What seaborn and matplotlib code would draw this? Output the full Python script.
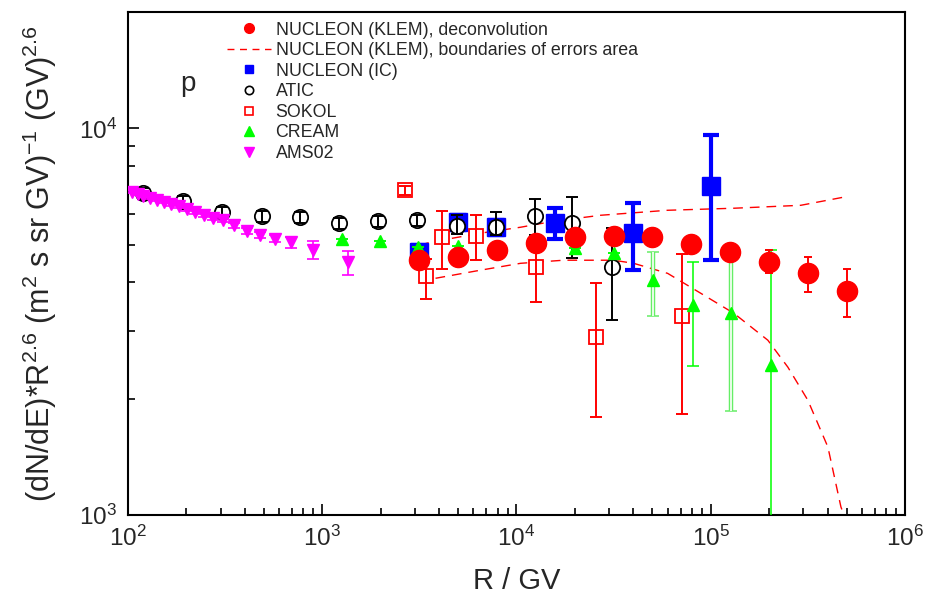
import matplotlib
matplotlib.use('Agg')
import matplotlib.pyplot as plt
import seaborn as sns
import pandas as pd
from matplotlib.lines import Line2D
from matplotlib.ticker import LogLocator, NullFormatter

# NUCLEON (KLEM), deconvolution
klem_r = [3162, 5012, 7943, 12590, 19950, 31620, 50120, 79430, 125900, 199500, 316200, 501200]
klem_f = [4560, 4640, 4840, 5050, 5230, 5260, 5230, 5010, 4780, 4510, 4220, 3790]
klem_lo = [90, 90, 95, 100, 100, 100, 100, 100, 95, 290, 450, 540]
klem_hi = [90, 90, 95, 100, 100, 100, 100, 100, 95, 330, 420, 530]

# boundaries of errors area
upper_r = [3162, 3600, 6500, 10500, 15500, 27100, 60000, 131500, 291000, 508000]
upper_f = [4980, 5076, 5355, 5550, 5750, 5960, 6140, 6215, 6325, 6670]
lower_r = [3162, 3600, 6520, 10500, 17460, 31600, 40100, 60000, 88700, 131500,
           196800, 249500, 316000, 401000, 468000, 485000]
lower_f = [4000, 4072, 4297, 4477, 4560, 4560, 4477, 4217, 3747, 3325,
           2832, 2412, 1982, 1499, 1049, 1000]

# NUCLEON (IC)
ic_r = [3162, 5023, 7888, 15880, 39600, 100000]
ic_f = [4780, 5716, 5550, 5682, 5355, 7080]
ic_lo = [200, 250, 250, 516, 1058, 2520]
ic_hi = [200, 250, 250, 533, 1045, 2510]

# ATIC
atic_r = [119, 192, 305, 491, 770, 1225, 1945, 3090, 4960, 7800, 12400, 19400, 30900]
atic_f = [6790, 6480, 6060, 5930, 5890, 5680, 5750, 5790, 5580, 5550, 5930, 5680, 4370]
atic_lo = [220, 210, 200, 190, 190, 180, 185, 185, 260, 260, 640, 1070, 1180]
atic_hi = [220, 210, 200, 190, 190, 180, 185, 185, 380, 520, 620, 950, 1150]

# SOKOL
sokol_r = [2680, 3436, 4155, 6220, 12530, 25530, 70900]
sokol_f = [6915, 4145, 5228, 5259, 4374, 2884, 3268]
sokol_lo = [200, 530, 906, 699, 824, 1093, 1444]
sokol_hi = [200, 441, 875, 698, 464, 1092, 1456]

# CREAM
cream_r = [1268, 1990, 3126, 5023, 19900, 31600, 50200, 80800, 126800, 203800]
cream_f = [5166, 5104, 4925, 4955, 4897, 4753, 4048, 3488, 3325, 2441]
cream_lo = [0, 0, 0, 0, 0, 0, 782, 1061, 1468, 1900]
cream_hi = [0, 0, 0, 0, 0, 0, 735, 1018, 1235, 2397]
cream_hollow = [False, False, False, False, False, False, True, False, True, False]

# AMS02
ams_r = [105, 112, 120, 130, 141, 153, 167, 183, 201, 222, 245, 274, 310, 353,
         408, 479, 570, 690, 900, 1350]
ams_f = [6850, 6780, 6700, 6620, 6540, 6460, 6370, 6280, 6190, 6080, 5970, 5880,
         5780, 5620, 5430, 5300, 5180, 5080, 4850, 4500]
ams_err = [60, 60, 60, 60, 60, 60, 60, 60, 60, 60, 60, 70, 70, 80,
           90, 100, 110, 170, 250, 330]

sns.set_style('ticks')
plt.rcParams['font.family'] = ['Liberation Sans', 'DejaVu Sans']
plt.rcParams['mathtext.fontset'] = 'custom'
plt.rcParams['mathtext.rm'] = 'Liberation Sans'
plt.rcParams['mathtext.it'] = 'Liberation Sans:italic'

fig = plt.figure(figsize=(9.26, 6.0), dpi=100)
ax = fig.add_axes([0.1382, 0.1417, 0.8391, 0.8383])
ax.set_xscale('log')
ax.set_yscale('log')

RED, BLUE, GREEN, MAG = '#ff0000', '#0000ff', '#00ff00', '#ff00ff'

# dashed error area boundaries
dash = (0, (7, 5))
sns.lineplot(x=upper_r, y=upper_f, ax=ax, color=RED, lw=1, linestyle=dash,
             sort=False, estimator=None, zorder=2)
sns.lineplot(x=lower_r, y=lower_f, ax=ax, color=RED, lw=1, linestyle=dash,
             sort=False, estimator=None, zorder=2)

# NUCLEON IC
ax.errorbar(ic_r, ic_f, yerr=[ic_lo, ic_hi], fmt='s', color=BLUE, ms=12.5,
            elinewidth=3, capsize=6, capthick=3, zorder=3)

# ATIC: white-filled circles, error lines on top
ax.plot(atic_r, atic_f, 'o', mfc='white', mec='black', mew=1.3, ms=11, zorder=4)
ax.errorbar(atic_r, atic_f, yerr=[atic_lo, atic_hi], fmt='none', ecolor='black',
            elinewidth=1.4, capsize=4.5, capthick=1.4, zorder=4.1)

# SOKOL
ax.plot(sokol_r, sokol_f, 's', mfc='white', mec=RED, mew=1.3, ms=9.5, zorder=4.2)
ax.errorbar(sokol_r, sokol_f, yerr=[sokol_lo, sokol_hi], fmt='none', ecolor=RED,
            elinewidth=1.4, capsize=4.5, capthick=1.4, zorder=4.3)

# CREAM (some error bars drawn as hollow double lines)
cream = pd.DataFrame({'r': cream_r, 'f': cream_f, 'lo': cream_lo, 'hi': cream_hi,
                      'hollow': cream_hollow})
solid = cream[~cream.hollow]
hollow = cream[cream.hollow]
ax.errorbar(solid.r, solid.f, yerr=[solid.lo, solid.hi], fmt='^', color=GREEN,
            ms=9, elinewidth=1.1, capsize=4, capthick=1.1, zorder=5)
ax.errorbar(hollow.r, hollow.f, yerr=[hollow.lo, hollow.hi], fmt='none',
            ecolor='#66ee66', elinewidth=3.2, capsize=4, capthick=1.1, zorder=5)
ax.vlines(hollow.r, hollow.f - hollow.lo, hollow.f + hollow.hi, color='white',
          lw=1.2, zorder=5.05)
ax.plot(hollow.r, hollow.f, '^', color=GREEN, ms=9, zorder=5.1)

# AMS02
ax.errorbar(ams_r, ams_f, yerr=ams_err, fmt='v', color=MAG, ms=9,
            elinewidth=1.2, capsize=4, capthick=1.2, zorder=6)

# NUCLEON KLEM
ax.errorbar(klem_r, klem_f, yerr=[klem_lo, klem_hi], fmt='o', color=RED, ms=14.5,
            elinewidth=1.4, capsize=3, capthick=1.4, zorder=7)

ax.set_xlim(1e2, 1e6)
ax.set_ylim(1e3, 2e4)

ax.xaxis.set_major_locator(LogLocator(base=10, numticks=10))
ax.xaxis.set_minor_locator(LogLocator(base=10, subs=range(2, 10), numticks=50))
ax.xaxis.set_minor_formatter(NullFormatter())
ax.set_yticks([1e3, 1e4])
ax.yaxis.set_minor_locator(LogLocator(base=10, subs=range(2, 10), numticks=50))
ax.yaxis.set_minor_formatter(NullFormatter())
ax.tick_params(which='both', direction='in', top=False, right=False, width=1.2,
               labelsize=17.5, color='black')
ax.tick_params(which='major', length=8, pad=8)
ax.tick_params(which='minor', length=5)
for s in ax.spines.values():
    s.set_linewidth(1.5)
    s.set_color('black')

ax.set_xlabel('R / GV', fontsize=21, labelpad=11)
ax.set_ylabel(r'(dN/dE)*R$^{2.6}$ (m$^{2}$ s sr GV)$^{-1}$ (GV)$^{2.6}$',
              fontsize=22, labelpad=14)
ax.text(204, 1.3e4, 'p', fontsize=20, ha='center', va='center')

handles = [
    Line2D([], [], marker='o', ls='none', color=RED, ms=7),
    Line2D([], [], ls=(0, (5, 4)), color=RED, lw=1),
    Line2D([], [], marker='s', ls='none', color=BLUE, ms=6),
    Line2D([], [], marker='o', ls='none', mfc='white', mec='black', ms=6, mew=1.2),
    Line2D([], [], marker='s', ls='none', mfc='white', mec=RED, ms=6, mew=1.2),
    Line2D([], [], marker='^', ls='none', color=GREEN, ms=7),
    Line2D([], [], marker='v', ls='none', color=MAG, ms=7),
]
labels = ['NUCLEON (KLEM), deconvolution',
          'NUCLEON (KLEM), boundaries of errors area',
          'NUCLEON (IC)', 'ATIC', 'SOKOL', 'CREAM', 'AMS02']
ax.legend(handles, labels, loc='upper left', bbox_to_anchor=(0.127, 0.981),
          frameon=False, fontsize=12.8, handlelength=2.5, handletextpad=0.25,
          labelspacing=0.2, borderpad=0, borderaxespad=0)

fig.savefig('out.png', dpi=100)
